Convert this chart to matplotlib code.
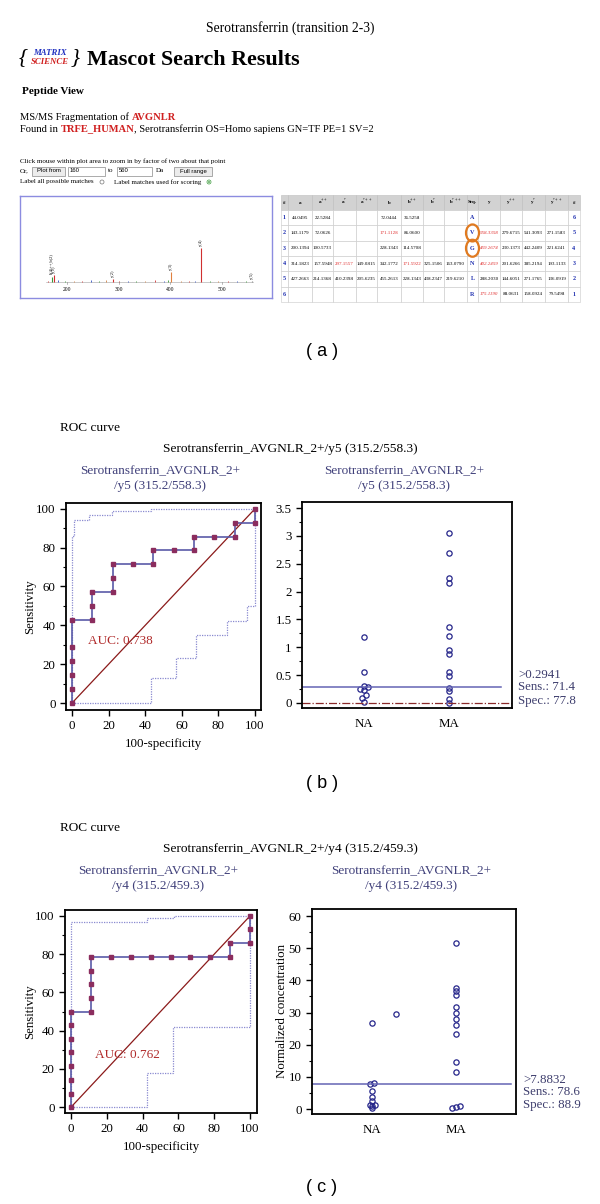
import matplotlib
matplotlib.use('Agg')
import matplotlib.pyplot as plt
from matplotlib.patches import Rectangle, Ellipse, Circle
from matplotlib.ticker import MultipleLocator, FuncFormatter

plt.rcParams['font.family'] = ['Liberation Serif', 'DejaVu Serif']
plt.rcParams['mathtext.fontset'] = 'stix'

W, H = 600, 1204

# ---------------- (a) Mascot screenshot data ----------------
spec_mz = [171.1, 175.1, 288.2, 402.2, 459.3, 558.3]
spec_int = [14, 20, 8, 30, 100, 4]
spec_lbl = ['b(4)++,b(2)', 'y(1)', 'y(2)', 'y(3)', 'y(4)', 'y(5)']
spec_col = ['#3a9a3a', '#d03030', '#d03030', '#e08040', '#d03030', '#888888']
noise_mz = [164, 182, 196, 214, 229, 247, 262, 276, 301, 318, 334, 352, 371,
            388, 396, 421, 437, 448, 476, 493, 512, 529, 547]
noise_int = [3, 5, 2, 4, 3, 5, 2, 6, 3, 4, 2, 3, 5, 2, 7, 3, 4, 2, 3, 2, 3, 2, 3]
spec_ticks = [200, 300, 400, 500]

tbl_head = ['#', 'a', r'a$^{++}$', r'a$^{*}$', r'a$^{*++}$', 'b', r'b$^{++}$',
            r'b$^{*}$', r'b$^{*++}$', 'Seq.', 'y', r'y$^{++}$', r'y$^{*}$',
            r'y$^{*++}$', '#']
tbl_rows = [
    ['1', '44.0495', '22.5284', '', '', '72.0444', '36.5258', '', '', 'A', '', '', '', '', '6'],
    ['2', '143.1179', '72.0626', '', '', '171.1128', '86.0600', '', '', 'V', '558.3358', '279.6715', '541.3093', '271.1583', '5'],
    ['3', '200.1394', '100.5733', '', '', '228.1343', '114.5708', '', '', 'G', '459.2674', '230.1373', '442.2409', '221.6241', '4'],
    ['4', '314.1823', '157.5948', '297.1557', '149.0815', '342.1772', '171.5922', '325.1506', '163.0790', 'N', '402.2459', '201.6266', '385.2194', '193.1133', '3'],
    ['5', '427.2663', '214.1368', '410.2398', '205.6235', '455.2613', '228.1343', '438.2347', '219.6210', 'L', '288.2030', '144.6051', '271.1765', '136.0919', '2'],
    ['6', '', '', '', '', '', '', '', '', 'R', '175.1190', '88.0631', '158.0924', '79.5498', '1'],
]
tbl_red = [(1, 5), (1, 10), (2, 10), (3, 3), (3, 6), (3, 10), (5, 10)]
tbl_circled = [1, 2]

# ---------------- (b) y5 transition ----------------
roc_b_x = [0, 0, 0, 0, 0, 0, 11.1, 11.1, 11.1, 22.2, 22.2, 22.2, 33.3, 44.4, 44.4,
           55.6, 66.7, 66.7, 77.8, 88.9, 88.9, 100, 100]
roc_b_y = [0, 7.1, 14.3, 21.4, 28.6, 42.9, 42.9, 50, 57.1, 57.1, 64.3, 71.4, 71.4,
           71.4, 78.6, 78.6, 78.6, 85.7, 85.7, 85.7, 92.9, 92.9, 100]
ci_up_b_x = [0, 0, 1, 1, 9, 9, 22, 22, 43, 43, 100]
ci_up_b_y = [0, 86, 86, 94, 94, 97, 97, 99, 99, 100, 100]
ci_lo_b_x = [0, 43, 43, 57, 57, 68, 68, 84.5, 84.5, 95.5, 95.5, 100, 100]
ci_lo_b_y = [0, 0, 13, 13, 23, 23, 35, 35, 42, 42, 50, 50, 100]
auc_b = 0.738

na_b = [1.18, 0.56, 0.30, 0.29, 0.25, 0.24, 0.14, 0.095, 0.02]
na_b_jit = [0, 0, 0, 0.05, -0.05, 0, 0.025, -0.025, 0]
ma_b = [3.06, 2.70, 2.24, 2.16, 1.37, 1.21, 0.96, 0.88, 0.55, 0.48, 0.27, 0.22, 0.08, 0.005]
ma_b_jit = [0] * 14
cut_b = 0.2941
stats_b = ['>0.2941', 'Sens.: 71.4', 'Spec.: 77.8']

# ---------------- (c) y4 transition ----------------
roc_c_x = [0, 0, 0, 0, 0, 0, 0, 0, 11.1, 11.1, 11.1, 11.1, 11.1, 22.2, 33.3, 44.4,
           55.6, 66.7, 77.8, 88.9, 88.9, 100, 100, 100]
roc_c_y = [0, 7.1, 14.3, 21.4, 28.6, 35.7, 42.9, 50, 50, 57.1, 64.3, 71.4, 78.6,
           78.6, 78.6, 78.6, 78.6, 78.6, 78.6, 78.6, 85.7, 85.7, 92.9, 100]
ci_up_c_x = [0, 0, 42.6, 42.6, 57.5, 57.5, 100]
ci_up_c_y = [0, 97, 97, 99, 99, 100, 100]
ci_lo_c_x = [0, 42.6, 42.6, 57, 57, 100, 100]
ci_lo_c_y = [0, 0, 18, 18, 42, 42, 100]
auc_c = 0.762

na_c = [26.9, 29.7, 8.0, 7.7, 5.7, 3.8, 2.6, 1.4, 1.3, 1.0, 0.4]
na_c_jit = [0, 0.29, 0.025, -0.03, 0, 0, 0, -0.03, 0.03, 0, 0]
ma_c = [51.6, 37.7, 36.7, 35.4, 31.8, 30.0, 27.9, 26.1, 23.4, 14.7, 11.4, 0.2, 0.5, 1.0]
ma_c_jit = [0] * 11 + [-0.05, 0, 0.05]
cut_c = 7.8832
stats_c = ['>7.8832', 'Sens.: 78.6', 'Spec.: 88.9']

groups = ['NA', 'MA']

fig = plt.figure(figsize=(6, 12.04), dpi=100)
renderer = fig.canvas.get_renderer()


def px_axes(x0, y0, x1, y1):
    return fig.add_axes([x0 / W, 1 - y1 / H, (x1 - x0) / W, (y1 - y0) / H])


bg = px_axes(0, 0, W, H)
bg.set_xlim(0, W)
bg.set_ylim(H, 0)
bg.axis('off')


def seq_text(x, y, parts, size):
    # texts placed one after another on one line
    for s, kw in parts:
        t = bg.text(x, y, s, fontsize=size, va='center', ha='left', **kw)
        bb = t.get_window_extent(renderer=renderer)
        x = bg.transData.inverted().transform((bb.x1, bb.y0))[0]


# ================= (a) =================
bg.text(290, 28, 'Serotransferrin (transition 2-3)', fontsize=9.8, ha='center', va='center')
bg.text(19, 58, '{', fontsize=16, style='italic', va='center', ha='left')
bg.text(50, 53, 'MATRIX', fontsize=6.3, color='#2030c0', style='italic', weight='bold', ha='center', va='center')
bg.text(50, 62, 'SCIENCE', fontsize=6.3, color='#d02020', style='italic', weight='bold', ha='center', va='center')
bg.text(71, 58, '}', fontsize=16, style='italic', va='center', ha='left')
bg.text(87, 60, 'Mascot Search Results', fontsize=15.8, weight='bold', va='center', ha='left')
bg.text(22, 91, 'Peptide View', fontsize=8, weight='bold', va='center')
seq_text(20, 117, [('MS/MS Fragmentation of ', {}),
                   ('AVGNLR', dict(color='#d02020', weight='bold'))], 7.6)
seq_text(20, 129, [('Found in ', {}),
                   ('TRFE_HUMAN', dict(color='#d02020', weight='bold')),
                   (', Serotransferrin OS=Homo sapiens GN=TF PE=1 SV=2', {})], 7.6)
bg.text(20, 161, 'Click mouse within plot area to zoom in by factor of two about that point',
        fontsize=5.0, va='center')
bg.text(20, 171, 'Or,', fontsize=5.0, va='center')
for x0, x1, lab, btn in [(32, 65, 'Plot from', True), (68, 105, '160', False),
                         (117, 152, '560', False), (174, 212, 'Full range', True)]:
    bg.add_patch(Rectangle((x0, 166.5), x1 - x0, 9, fc='#ececec' if btn else 'white',
                           ec='#8a8a8a', lw=0.5))
    bg.text((x0 + x1) / 2 if btn else x0 + 2, 171, lab, fontsize=4.3, va='center',
            ha='center' if btn else 'left', family='Liberation Sans')
bg.text(108, 171, 'to', fontsize=5.0, va='center')
bg.text(156, 171, 'Da', fontsize=5.0, va='center')
bg.text(20, 182, 'Label all possible matches', fontsize=5.0, va='center')
bg.add_patch(Circle((102, 182), 2.0, fc='white', ec='#777777', lw=0.5))
bg.text(114, 182, 'Label matches used for scoring', fontsize=5.0, va='center')
bg.add_patch(Circle((209, 182), 2.0, fc='white', ec='#3a9a3a', lw=0.5))
bg.add_patch(Circle((209, 182), 0.9, fc='#3a9a3a', ec='none'))

# spectrum
sp = px_axes(20, 196, 272, 298)
sp.set_xlim(109, 597)
sp.set_ylim(-47, 253)
sp.set_xticks([])
sp.set_yticks([])
for s in sp.spines.values():
    s.set_color('#8c8ce0')
    s.set_linewidth(1.0)
sp.plot([160, 560], [0, 0], color='#a0a0a0', lw=0.4)
noise_cols = ['#d03030', '#3050c0', '#3a9a3a', '#d08040']
sp.vlines(noise_mz, 0, noise_int, colors=[noise_cols[i % 4] for i in range(len(noise_mz))], lw=0.6)
sp.vlines(spec_mz, 0, spec_int, colors=spec_col, lw=0.8)
for mz, it, lb in zip(spec_mz, spec_int, spec_lbl):
    sp.text(mz, it + 6, lb, rotation=90, fontsize=3.2, ha='center', va='bottom')
for t in spec_ticks:
    sp.plot([t, t], [-5, 0], color='#808080', lw=0.4)
    sp.text(t, -22, str(t), fontsize=4.0, ha='center', va='center')

# fragment table
col_edges = [281, 288, 312, 333, 356, 377, 401, 423, 444, 467, 478, 500, 522, 545, 568, 580]
row_edges = [195, 210] + [210 + 15.3 * (i + 1) for i in range(len(tbl_rows))]
for j, h in enumerate(tbl_head):
    x0, x1 = col_edges[j], col_edges[j + 1]
    bg.add_patch(Rectangle((x0, row_edges[0]), x1 - x0, row_edges[1] - row_edges[0],
                           fc='#d2d2d2', ec='#bdbdbd', lw=0.4))
    bg.text((x0 + x1) / 2, (row_edges[0] + row_edges[1]) / 2, h, fontsize=3.6,
            ha='center', va='center', weight='bold')
for i, row in enumerate(tbl_rows):
    y0, y1 = row_edges[i + 1], row_edges[i + 2]
    for j, val in enumerate(row):
        x0, x1 = col_edges[j], col_edges[j + 1]
        bg.add_patch(Rectangle((x0, y0), x1 - x0, y1 - y0, fc='white', ec='#c8c8c8', lw=0.4))
        if not val:
            continue
        kw = dict(fontsize=3.6, ha='center', va='center')
        if j in (0, 9, 14):
            kw.update(color='#2030b0', weight='bold', fontsize=4.4)
        elif (i, j) in tbl_red:
            kw.update(color='#e03030', style='italic' if j == 10 else 'normal')
        bg.text((x0 + x1) / 2, (y0 + y1) / 2, val, **kw)
for i in tbl_circled:
    yc = (row_edges[i + 1] + row_edges[i + 2]) / 2
    bg.add_patch(Ellipse((472.5, yc), 13, 17, fc='none', ec='#e07a20', lw=1.6))

bg.text(322, 352, '( a )', fontsize=13, family='Liberation Sans', ha='center', va='center')

# ================= ROC + dot plots =================
TITLE_C = '#40407a'
ROC_LINE = '#5a5aa8'
ROC_MK = '#8b2d5e'
CI_C = '#8a8ad0'
DIAG = '#8b1a1a'
DOT_C = '#26268a'


def style_box(ax):
    for s in ax.spines.values():
        s.set_linewidth(1.3)
        s.set_color('black')
    ax.tick_params(labelsize=9.3, length=4, width=1, direction='out')
    ax.tick_params(which='minor', length=2, width=0.8)


def roc_axes(rect, xs, ys, ux, uy, lx, ly, auc, auc_xy, lims):
    ax = px_axes(*rect)
    ax.plot(ux, uy, color=CI_C, lw=0.9, ls=(0, (1, 1)))
    ax.plot(lx, ly, color=CI_C, lw=0.9, ls=(0, (1, 1)))
    ax.plot([0, 100], [0, 100], color=DIAG, lw=0.9)
    ax.plot(xs, ys, color=ROC_LINE, lw=1.2, marker='s', ms=3.2, mfc=ROC_MK, mec=ROC_MK)
    ax.text(auc_xy[0], auc_xy[1], 'AUC: %.3f' % auc, color='#b02a2a', fontsize=9.5, va='center')
    ax.set_xlim(lims[0])
    ax.set_ylim(lims[1])
    ax.set_xticks(range(0, 101, 20))
    ax.set_yticks(range(0, 101, 20))
    ax.yaxis.set_minor_locator(MultipleLocator(10))
    style_box(ax)
    return ax


def dot_axes(rect, na, naj, ma, maj, cut, cut_span, lims, major, minor):
    ax = px_axes(*rect)
    ax.plot([1 + j for j in naj], na, 'o', ms=3.8, mfc='none', mec=DOT_C, mew=0.9)
    ax.plot([2 + j for j in maj], ma, 'o', ms=3.8, mfc='none', mec=DOT_C, mew=0.9)
    ax.axhline(cut, xmin=0, xmax=cut_span, color='#6464b4', lw=1.1)
    ax.set_xlim(lims[0])
    ax.set_ylim(lims[1])
    ax.set_xticks([1, 2])
    ax.set_xticklabels(groups)
    ax.yaxis.set_major_locator(MultipleLocator(major))
    ax.yaxis.set_minor_locator(MultipleLocator(minor))
    ax.yaxis.set_major_formatter(FuncFormatter(lambda v, p: '%g' % v))
    style_box(ax)
    ax.tick_params(axis='x', length=0, pad=7)
    return ax


def panel(top, roc_rect, dot_rect, tag, title, sub2, roc_args, dot_args, stats, stats_x, stats_y, ylab):
    bg.text(60, top, 'ROC curve', fontsize=9.5, va='center')
    bg.text(290, top + 21, title, fontsize=9.6, ha='center', va='center')
    for xc in [(roc_rect[0] + roc_rect[2]) / 2 - 3, (dot_rect[0] + dot_rect[2]) / 2 - 3]:
        bg.text(xc, top + 43, 'Serotransferrin_AVGNLR_2+', fontsize=9.5, color=TITLE_C,
                ha='center', va='center')
        bg.text(xc, top + 58, sub2, fontsize=9.5, color=TITLE_C, ha='center', va='center')
    roc_axes(roc_rect, *roc_args)
    ax = dot_axes(dot_rect, *dot_args)
    if ylab is None:
        ax.axhline(0, color='#8b2a2a', lw=0.9, ls='-.')
    for s, yy in zip(stats, stats_y):
        bg.text(stats_x, yy, s, fontsize=9.3, color='#3c3c6c', va='center')
    bg.text(30, (roc_rect[1] + roc_rect[3]) / 2, 'Sensitivity', rotation=90, fontsize=9.3,
            ha='center', va='center')
    bg.text((roc_rect[0] + roc_rect[2]) / 2, roc_rect[3] + 34, '100-specificity', fontsize=9.3,
            ha='center', va='center')
    if ylab:
        bg.text(282, (dot_rect[1] + dot_rect[3]) / 2, ylab, rotation=90, fontsize=9.3,
                ha='center', va='center')
    bg.text(322, tag[1], tag[0], fontsize=13, family='Liberation Sans', ha='center', va='center')


panel(428, (66, 503, 261, 710), (302, 502, 512, 708), ('( b )', 783),
      'Serotransferrin_AVGNLR_2+/y5 (315.2/558.3)', '/y5 (315.2/558.3)',
      (roc_b_x, roc_b_y, ci_up_b_x, ci_up_b_y, ci_lo_b_x, ci_lo_b_y, auc_b, (9, 32),
       ((-3.3, 103.3), (-3.6, 103))),
      (na_b, na_b_jit, ma_b, ma_b_jit, cut_b, 0.95, ((0.27, 2.74), (-0.09, 3.61)), 0.5, 0.25),
      stats_b, 518, [675, 687, 701], None)

panel(828, (65, 910, 257, 1113), (312, 909, 516, 1114), ('( c )', 1188),
      'Serotransferrin_AVGNLR_2+/y4 (315.2/459.3)', '/y4 (315.2/459.3)',
      (roc_c_x, roc_c_y, ci_up_c_x, ci_up_c_y, ci_lo_c_x, ci_lo_c_y, auc_c, (13.4, 27),
       ((-3.4, 103.9), (-3.1, 103.1))),
      (na_c, na_c_jit, ma_c, ma_c_jit, cut_c, 0.975, ((0.286, 2.71), (-1.55, 62.2)), 10, 5),
      stats_c, 523, [1080, 1092, 1105], 'Normalized concentration')

fig.savefig('out.png', dpi=100)
